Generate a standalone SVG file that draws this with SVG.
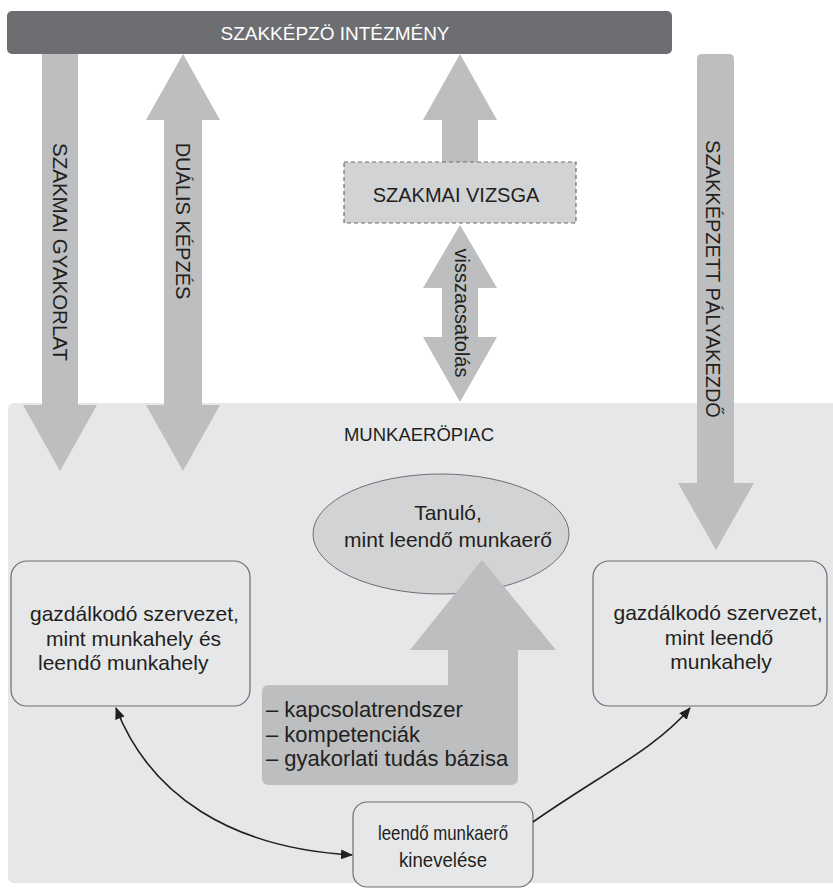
<svg xmlns="http://www.w3.org/2000/svg" width="833" height="890" viewBox="0 0 833 890">
<defs>
<style>
text{font-family:"Liberation Sans",Arial,sans-serif;fill:#231f20}
.arrow{fill:#bcbec0}
.box{fill:#e6e7e8;stroke:#6d6e71;stroke-width:1.2}
.t20{font-size:20px}
.t21{font-size:21px}
.t22{font-size:22px}
.mid{text-anchor:middle}
.conn{fill:none;stroke:#231f20;stroke-width:1.6}
</style>
<marker id="ah" viewBox="0 0 12 10" refX="11" refY="5" markerWidth="12" markerHeight="10" markerUnits="userSpaceOnUse" orient="auto-start-reverse">
<path d="M0,0 L12,5 L0,10 Z" fill="#231f20"/>
</marker>
</defs>
<rect width="833" height="890" fill="#ffffff"/>
<g id="munkaeropiac">
<rect x="8" y="403" width="830" height="480" rx="6" fill="#e6e7e8"/>
<text x="419" y="441" class="mid" style="font-size:18.5px">MUNKAERÖPIAC</text>
</g>
<g id="szakkepzo-intezmeny">
<rect x="7" y="11" width="665" height="43" rx="5" fill="#6d6e71"/>
<text x="335" y="40" class="mid" style="font-size:19px;fill:#ffffff">SZAKKÉPZÖ INTÉZMÉNY</text>
</g>
<g id="szakmai-gyakorlat">
<polygon class="arrow" points="42,54 78,54 78,405 97,405 60,471 23,405 42,405"/>
<text class="mid" style="font-size:20.5px" transform="translate(53,252) rotate(90)">SZAKMAI GYAKORLAT</text>
</g>
<g id="dualis-kepzes">
<polygon class="arrow" points="183,54 220,120 202,120 202,405 220,405 183,471 146,405 164,405 164,120 146,120"/>
<text class="t20 mid" transform="translate(176,221) rotate(90)">DUÁLIS KÉPZÉS</text>
</g>
<g id="vizsga-fel">
<polygon class="arrow" points="460,54 497,120 478,120 478,162 442,162 442,120 423,120"/>
</g>
<g id="szakmai-vizsga">
<rect x="344" y="162" width="232" height="61" fill="#d1d3d4" stroke="#6d6e71" stroke-width="1.2" stroke-dasharray="4,3"/>
<text x="456" y="202" class="t20 mid">SZAKMAI VIZSGA</text>
</g>
<g id="visszacsatolas">
<polygon class="arrow" points="460,225 497,288 478,288 478,337 497,337 460,402 423,337 442,337 442,288 423,288"/>
<text class="t20 mid" transform="translate(455,313) rotate(90)">visszacsatolás</text>
</g>
<g id="szakkepzett-palyakezdo">
<path class="arrow" d="M697,59 Q697,54 702,54 L729,54 Q734,54 734,59 L734,483 L754,483 L716,550 L678,483 L697,483 Z"/>
<text class="t20 mid" transform="translate(706,279) rotate(90)">SZAKKÉPZETT PÁLYAKEZDŐ</text>
</g>
<g id="tanulo">
<ellipse cx="441" cy="534" rx="128" ry="60" fill="#d1d3d4" stroke="#6d6e71" stroke-width="1"/>
<text x="448" y="520" class="t21 mid">Tanuló,</text>
<text x="448" y="547" class="t21 mid">mint leendő munkaerő</text>
</g>
<g id="tudas-bazis">
<path class="arrow" d="M482,560 L556,650 L518,650 L518,778 Q518,785 511,785 L269,785 Q262,785 262,778 L262,692 Q262,685 269,685 L448,685 L448,650 L410,650 Z"/>
<text x="266" y="717" class="t22">– kapcsolatrendszer</text>
<text x="266" y="742" class="t22">– kompetenciák</text>
<text x="266" y="766" class="t22">– gyakorlati tudás bázisa</text>
</g>
<g id="gazdalkodo-bal">
<rect class="box" x="11" y="561" width="239" height="145" rx="16"/>
<text x="30" y="621" class="t21">gazdálkodó szervezet,</text>
<text x="46" y="646" class="t21">mint munkahely és</text>
<text x="38" y="670" class="t21">leendő munkahely</text>
</g>
<g id="gazdalkodo-jobb">
<rect class="box" x="593" y="561" width="234" height="145" rx="16"/>
<text x="718" y="620" class="t21 mid">gazdálkodó szervezet,</text>
<text x="719" y="645" class="t21 mid">mint leendő</text>
<text x="721" y="669" class="t21 mid">munkahely</text>
</g>
<g id="kineveles">
<rect class="box" x="353" y="802" width="180" height="85" rx="14"/>
<text x="443" y="840" class="mid" style="font-size:21px" textLength="130" lengthAdjust="spacingAndGlyphs">leendő munkaerő</text>
<text x="443" y="867" class="mid" style="font-size:21px" textLength="88" lengthAdjust="spacingAndGlyphs">kinevelése</text>
</g>
<g id="connectors">
<path class="conn" d="M116,708 C150,795 230,848 352,855" marker-start="url(#ah)" marker-end="url(#ah)"/>
<path class="conn" d="M533,822 C600,775 657,748 690,708" marker-end="url(#ah)"/>
</g>
</svg>
